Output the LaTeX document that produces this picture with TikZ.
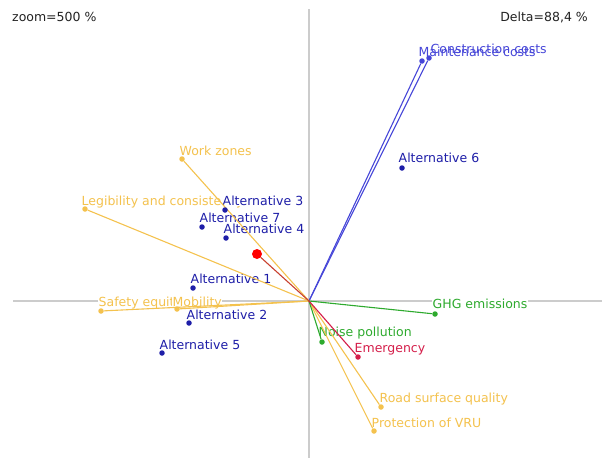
\documentclass[tikz,border=0pt]{standalone}
\usepackage{fontspec}
\setmainfont{DejaVu Sans}
\definecolor{axisgray}{HTML}{CCCCCC}
\definecolor{altblue}{HTML}{1E1EA8}
\definecolor{costblue}{HTML}{4646D8}
\definecolor{crityellow}{HTML}{F4C24E}
\definecolor{critgreen}{HTML}{2EAA2E}
\definecolor{critred}{HTML}{D41E4A}
\definecolor{centerred}{HTML}{C8402E}
\definecolor{infotext}{HTML}{222222}
\begin{document}
\begin{tikzpicture}[x=1pt,y=-1pt,
  dot/.style={circle,fill,inner sep=0pt,minimum size=5.5pt},
  bigdot/.style={circle,fill=red,inner sep=0pt,minimum size=10pt},
  lbl/.style={font=\fontsize{12.5}{14}\selectfont,inner sep=0.5pt,anchor=base west,fill=white},
  axis/.style={draw=axisgray,line width=1.4pt},
  vec/.style={line width=1.1pt},
]
\useasboundingbox (0,0) rectangle (602,458);

% axes through the origin of the plane
\coordinate (O) at (309,301);
\coordinate (ytop) at (309,9);
\coordinate (ybot) at (309,458);
\coordinate (xleft) at (13,301);
\coordinate (xright) at (602,301);
\draw[axis] (ytop) -- (ybot);
\draw[axis] (xleft) -- (xright);

% corner information
\node[font=\fontsize{12.5}{14}\selectfont,text=infotext,anchor=base west,inner sep=0pt] (zoom) at (12,21.5) {zoom=500 \%};
\node[font=\fontsize{12.5}{14}\selectfont,text=infotext,anchor=base east,inner sep=0pt] (delta) at (588,21.5) {Delta=88,4 \%};

% labels
\node[lbl,text=costblue] (mcl) at (418,56.5) {Maintenance costs};
\node[lbl,text=costblue,fill=none] (ccl) at (430,53) {Construction costs};
\node[lbl,text=altblue] (a6l) at (398,162.5) {Alternative 6};
\node[lbl,text=crityellow] (wzl) at (179,155.5) {Work zones};
\node[lbl,text=crityellow] (lcl) at (81,205.5) {Legibility and consistency};
\node[lbl,text=altblue] (a3l) at (222,205.5) {Alternative 3};
\node[lbl,text=altblue,fill=none] (a7l) at (199,222.5) {Alternative 7};
\node[lbl,text=altblue] (a4l) at (223,233) {Alternative 4};
\node[lbl,text=altblue] (a1l) at (190,283.5) {Alternative 1};
\node[lbl,text=crityellow] (sel) at (98,306.5) {Safety equity};
\node[lbl,text=crityellow] (mol) at (172,306) {Mobility};
\node[lbl,text=altblue] (a2l) at (186,319.5) {Alternative 2};
\node[lbl,text=altblue] (a5l) at (159,349.5) {Alternative 5};
\node[lbl,text=critgreen] (ghl) at (432,308.5) {GHG emissions};
\node[lbl,text=critgreen,fill=none] (npl) at (318,336) {Noise pollution};
\node[lbl,text=critred,fill=none] (eml) at (354,352.5) {Emergency};
\node[lbl,text=crityellow] (rsl) at (379,402.5) {Road surface quality};
\node[lbl,text=crityellow] (pvl) at (371,427.5) {Protection of VRU};

% criteria end points
\node[dot,costblue] (cc) at (429,58) {};
\node[dot,costblue] (mc) at (422,61) {};
\node[dot,crityellow] (wz) at (182,159) {};
\node[dot,crityellow] (lc) at (85,209) {};
\node[dot,crityellow] (se) at (101,311) {};
\node[dot,crityellow] (mo) at (177,309) {};
\node[dot,crityellow] (rs) at (381,407) {};
\node[dot,crityellow] (pv) at (374,431) {};
\node[dot,critgreen] (gh) at (435,314) {};
\node[dot,critgreen] (np) at (322,342) {};
\node[dot,critred] (em) at (358,357) {};

% criteria vectors
\draw[vec,costblue] (O) -- (cc);
\draw[vec,costblue] (O) -- (mc);
\draw[vec,crityellow] (O) -- (wz);
\draw[vec,crityellow] (O) -- (lc);
\draw[vec,crityellow] (O) -- (se);
\draw[vec,crityellow] (O) -- (mo);
\draw[vec,crityellow] (O) -- (rs);
\draw[vec,crityellow] (O) -- (pv);
\draw[vec,critgreen] (O) -- (gh);
\draw[vec,critgreen] (O) -- (np);
\draw[vec,critred] (O) -- (em);

% decision stick
\node[bigdot] (st) at (257,254) {};
\draw[vec,centerred] (O) -- (st);

% alternatives
\node[dot,altblue] (a6) at (402,168) {};
\node[dot,altblue] (a3) at (225,210) {};
\node[dot,altblue] (a7) at (202,227) {};
\node[dot,altblue] (a4) at (226,238) {};
\node[dot,altblue] (a1) at (193,288) {};
\node[dot,altblue] (a2) at (189,323) {};
\node[dot,altblue] (a5) at (162,353) {};
\end{tikzpicture}
\end{document}
